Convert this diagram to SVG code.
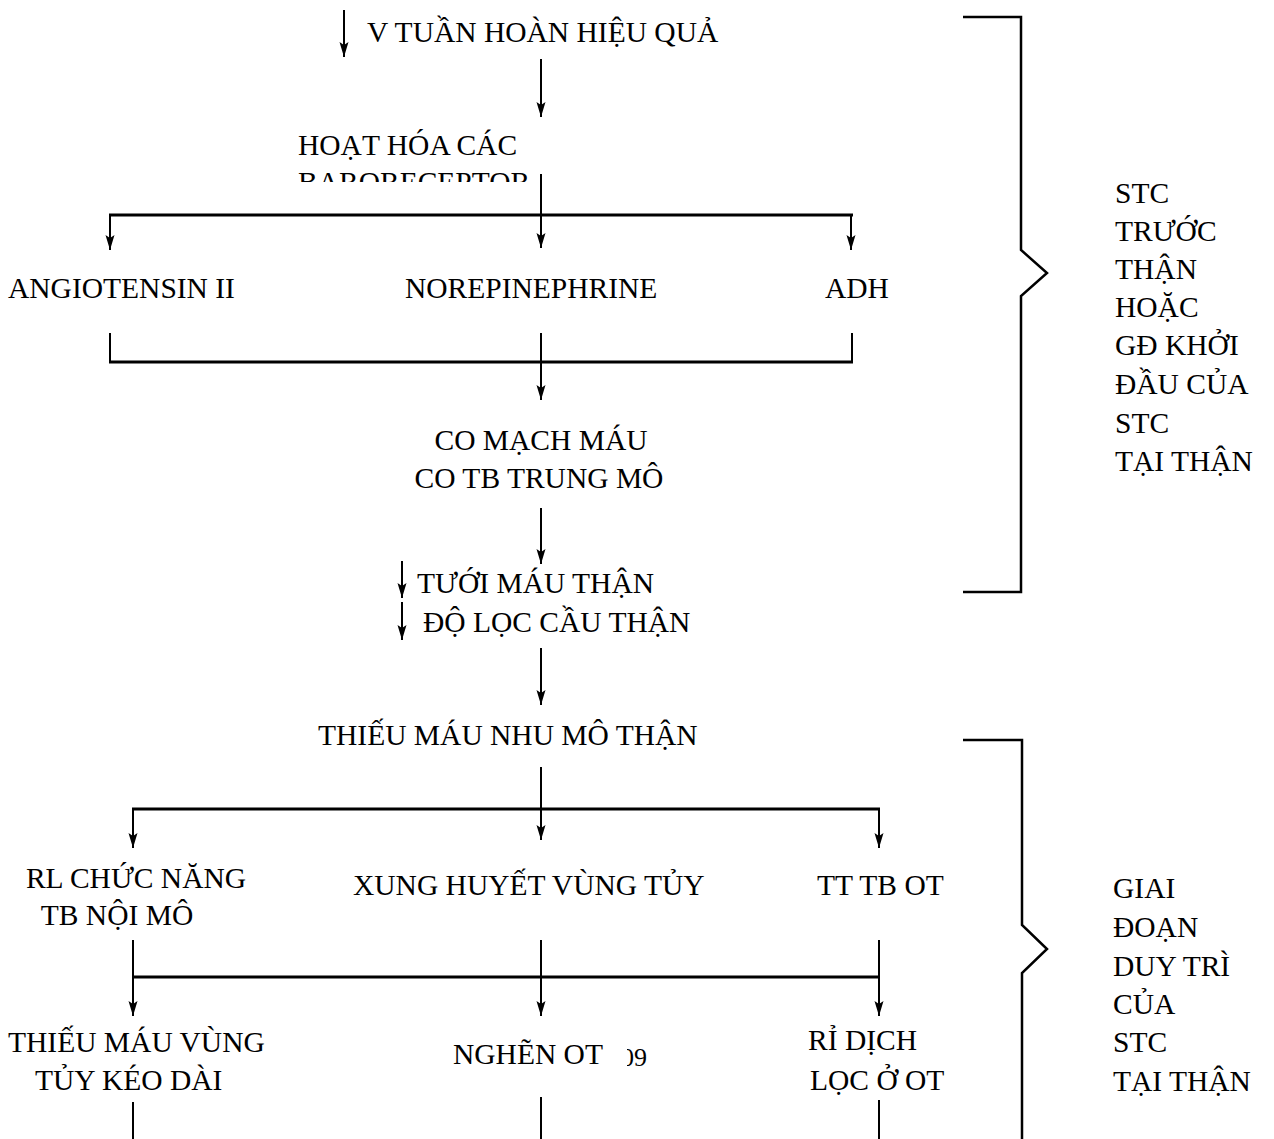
<svg xmlns="http://www.w3.org/2000/svg" width="1274" height="1139" viewBox="0 0 1274 1139">
<style>
text{font-family:"Liberation Serif","Times New Roman",serif;font-size:29.5px;fill:#000}
.c{stroke:#000;stroke-width:2;fill:none}
.h{stroke:#000;stroke-width:3;fill:none}
.a{stroke:#000;stroke-width:2;fill:none;marker-end:url(#ah)}
.br{stroke:#000;stroke-width:2.5;fill:none}
.mid{text-anchor:middle}
</style>
<defs>
<marker id="ah" viewBox="0 -5 15 10" refX="15" refY="0" markerWidth="15" markerHeight="10" markerUnits="userSpaceOnUse" orient="auto">
<path d="M0,-4.5 L15,0 L0,4.5 L3,0 Z" fill="#000"/>
</marker>
<clipPath id="clipBaro"><rect x="280" y="160" width="300" height="22"/></clipPath>
<clipPath id="clipPg"><rect x="627" y="1040" width="40" height="40"/></clipPath>
</defs>
<rect width="1274" height="1139" fill="#fff"/>

<g id="connectors">
<path class="a" d="M344,10 V57"/>
<path class="a" d="M541,59 V117"/>
<path class="a" d="M541,174 V248"/>
<path class="h" d="M109,215 H853"/>
<path class="a" d="M110,215 V250"/>
<path class="a" d="M851,215 V250"/>
<path class="c" d="M110,333 V362"/>
<path class="c" d="M852,333 V362"/>
<path class="h" d="M109,362 H853"/>
<path class="a" d="M541,333 V400"/>
<path class="a" d="M541,508 V564"/>
<path class="a" d="M402,561 V598"/>
<path class="a" d="M402,602 V640"/>
<path class="a" d="M541,648 V705"/>
<path class="a" d="M541,767 V840"/>
<path class="h" d="M132,809 H880"/>
<path class="a" d="M133,809 V848"/>
<path class="a" d="M879,809 V848"/>
<path class="c" d="M133,940 V977"/>
<path class="h" d="M132,977 H880"/>
<path class="a" d="M133,977 V1016"/>
<path class="a" d="M541,940 V1016"/>
<path class="a" d="M879,940 V1016"/>
<path class="c" d="M133,1102 V1139"/>
<path class="c" d="M541,1097 V1139"/>
<path class="c" d="M879,1100 V1139"/>
</g>

<g id="n-vtuanhoan"><text x="367" y="42">V TUẦN HOÀN HIỆU QUẢ</text></g>
<g id="n-hoathoa">
<text x="298" y="155">HOẠT HÓA CÁC</text>
<text x="298" y="192" clip-path="url(#clipBaro)">BARORECEPTOR</text>
</g>
<g id="n-angiotensin"><text x="8" y="298">ANGIOTENSIN II</text></g>
<g id="n-norepinephrine"><text x="405" y="298">NOREPINEPHRINE</text></g>
<g id="n-adh"><text x="825" y="298">ADH</text></g>
<g id="n-comach">
<text x="541" y="450" class="mid">CO MẠCH MÁU</text>
<text x="539" y="488" class="mid">CO TB TRUNG MÔ</text>
</g>
<g id="n-tuoimau">
<text x="417" y="593">TƯỚI MÁU THẬN</text>
<text x="423" y="632">ĐỘ LỌC CẦU THẬN</text>
</g>
<g id="n-thieumau"><text x="318" y="745">THIẾU MÁU NHU MÔ THẬN</text></g>
<g id="n-rlchucnang">
<text x="136" y="888" class="mid">RL CHỨC NĂNG</text>
<text x="117" y="925" class="mid">TB NỘI MÔ</text>
</g>
<g id="n-xunghuyet"><text x="353" y="895">XUNG HUYẾT VÙNG TỦY</text></g>
<g id="n-tttbot"><text x="817" y="895">TT TB OT</text></g>
<g id="n-thieumauvung">
<text x="8" y="1052">THIẾU MÁU VÙNG</text>
<text x="35" y="1090">TỦY KÉO DÀI</text>
</g>
<g id="n-nghenot"><text x="453" y="1064">NGHẼN OT</text></g>
<g id="n-page"><text x="621" y="1066" style="font-size:26px" clip-path="url(#clipPg)">09</text></g>
<g id="n-ridich">
<text x="808" y="1050">RỈ DỊCH</text>
<text x="810" y="1090">LỌC Ở OT</text>
</g>

<g id="bracket-top">
<path class="br" d="M963,17 H1021 V250 L1047,273 L1021,296 V592 H963"/>
<text x="1115" y="203">STC</text>
<text x="1115" y="241">TRƯỚC</text>
<text x="1115" y="279">THẬN</text>
<text x="1115" y="317">HOẶC</text>
<text x="1115" y="355">GĐ KHỞI</text>
<text x="1115" y="394">ĐẦU CỦA</text>
<text x="1115" y="433">STC</text>
<text x="1115" y="471">TẠI THẬN</text>
</g>
<g id="bracket-bottom">
<path class="br" d="M963,740 H1022 V925 L1047,949 L1022,973 V1139"/>
<text x="1113" y="898">GIAI</text>
<text x="1113" y="937">ĐOẠN</text>
<text x="1113" y="976">DUY TRÌ</text>
<text x="1113" y="1014">CỦA</text>
<text x="1113" y="1052">STC</text>
<text x="1113" y="1091">TẠI THẬN</text>
</g>
</svg>
